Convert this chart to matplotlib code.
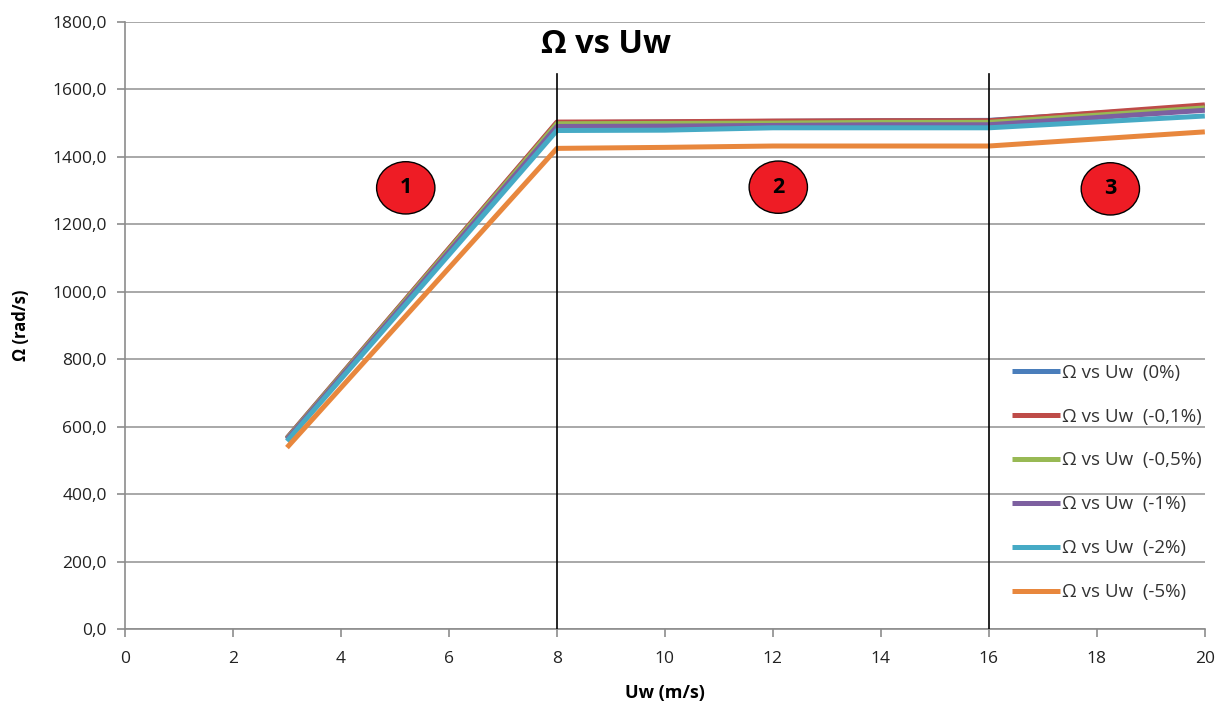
import matplotlib
matplotlib.use("Agg")
import matplotlib.pyplot as plt
from matplotlib.patches import Ellipse

plt.rcParams['font.family'] = ['Open Sans', 'DejaVu Sans']

# wind speed (m/s)
uw = [3, 8, 10, 12, 14, 16, 20]

# rotor speed (rad/s) for each case
omega_0 = [566, 1501, 1503, 1505, 1507, 1508, 1550]
omega_01 = [566, 1503, 1504, 1506, 1507, 1507, 1554]
omega_05 = [564, 1498, 1499, 1500, 1502, 1502, 1545]
omega_1 = [562, 1490, 1491, 1493, 1495, 1495, 1538]
omega_2 = [557, 1478, 1479, 1486, 1486, 1486, 1521]
omega_5 = [538, 1425, 1428, 1432, 1432, 1432, 1474]

series = [omega_0, omega_01, omega_05, omega_1, omega_2, omega_5]
labels = ["Ω vs Uw  (0%)", "Ω vs Uw  (-0,1%)", "Ω vs Uw  (-0,5%)",
          "Ω vs Uw  (-1%)", "Ω vs Uw  (-2%)", "Ω vs Uw  (-5%)"]
colors = ["#4A7EBB", "#BE4B48", "#98B954", "#7D60A0", "#46AAC5", "#E8873D"]

# operating regions: boundaries and marker positions
region_bounds = [8, 16]
region_names = ["1", "2", "3"]
region_x = [5.2, 12.1, 18.25]
region_y = [1308, 1310, 1305]

fig = plt.figure(figsize=(12.17, 7.06), dpi=100)
ax = fig.add_axes([0.1027, 0.109, 0.8873, 0.86])

for vals, lab, col in zip(series, labels, colors):
    ax.plot(uw, vals, color=col, lw=3.6, label=lab, solid_capstyle='butt')

for b in region_bounds:
    ax.plot([b, b], [0, 1645], color='black', lw=1.2, zorder=5)

for name, rx, ry in zip(region_names, region_x, region_y):
    ax.add_patch(Ellipse((rx, ry), 1.08, 155, facecolor='#EE1C25',
                         edgecolor='black', lw=1.0, zorder=6))
    ax.text(rx, ry, name, ha='center', va='center', fontsize=15.5,
            fontweight='bold', zorder=7)

ax.set_xlim(0, 20)
ax.set_ylim(0, 1800)
ax.set_xticks(range(0, 21, 2))
ax.set_yticks(range(0, 1801, 200))
ax.set_yticklabels([f"{v},0" for v in range(0, 1801, 200)])
ax.yaxis.grid(True, color='#9a9a9a', lw=1.2)
ax.set_axisbelow(True)
for s in ['top', 'right']:
    ax.spines[s].set_visible(False)
for s in ['left', 'bottom']:
    ax.spines[s].set_color('#8c8c8c')
    ax.spines[s].set_linewidth(1.2)
ax.tick_params(axis='both', colors='#8c8c8c', length=6, width=1.2,
               labelcolor='#222222', labelsize=12.5)
ax.tick_params(axis='y', pad=7)
ax.tick_params(axis='x', pad=10)

ax.set_xlabel("Uw (m/s)", fontsize=13, fontweight='bold', labelpad=12)
ax.set_ylabel("Ω (rad/s)", fontsize=12, fontweight='bold', labelpad=16)

ax.text(0.445, 0.962, "Ω vs Uw", transform=ax.transAxes, ha='center',
        va='center', fontsize=23.5, fontweight='bold')

leg = ax.legend(loc='upper left', bbox_to_anchor=(0.821, 0.437), frameon=False,
                fontsize=13.5, handlelength=2.6, handletextpad=0.1,
                labelspacing=1.38, borderaxespad=0, borderpad=0)
for t in leg.get_texts():
    t.set_color('#333333')

fig.savefig("out.png", dpi=100)
